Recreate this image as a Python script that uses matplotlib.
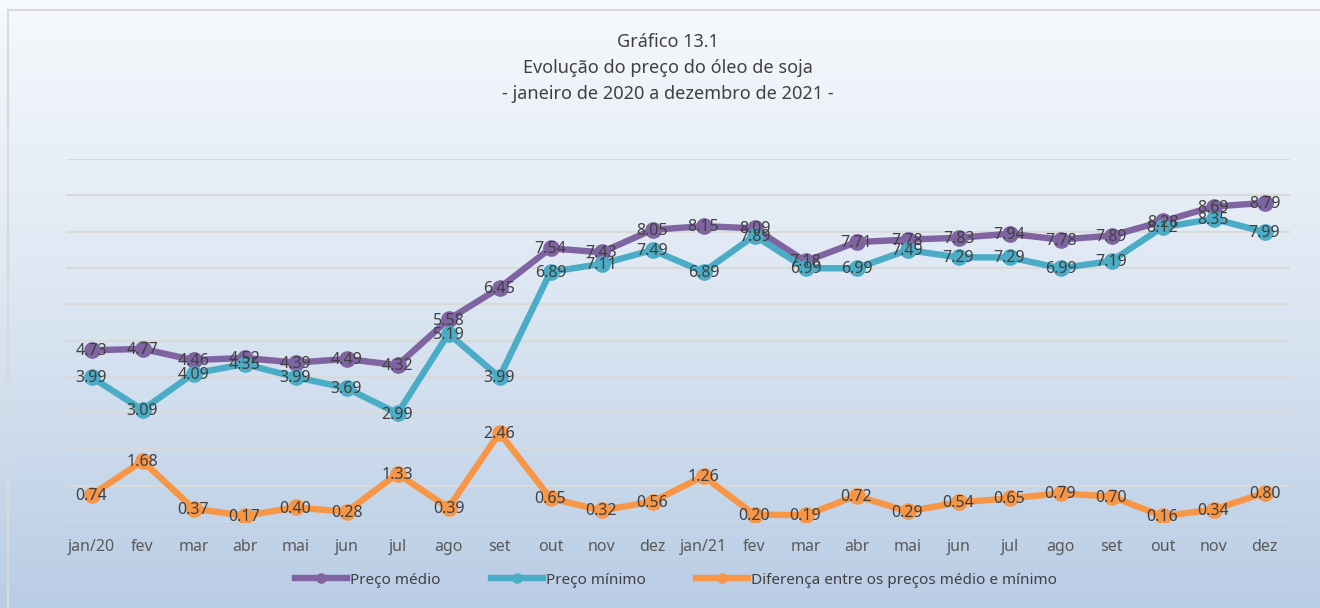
import numpy as np
import matplotlib
matplotlib.use("Agg")
from matplotlib import pyplot as plt
from matplotlib.colors import LinearSegmentedColormap
from matplotlib.patches import Rectangle

months = ["jan/20", "fev", "mar", "abr", "mai", "jun", "jul", "ago", "set", "out", "nov", "dez",
          "jan/21", "fev", "mar", "abr", "mai", "jun", "jul", "ago", "set", "out", "nov", "dez"]
preco_medio = [4.73, 4.77, 4.46, 4.52, 4.39, 4.49, 4.32, 5.58, 6.45, 7.54, 7.43, 8.05,
               8.15, 8.09, 7.18, 7.71, 7.78, 7.83, 7.94, 7.78, 7.89, 8.28, 8.69, 8.79]
preco_minimo = [3.99, 3.09, 4.09, 4.35, 3.99, 3.69, 2.99, 5.19, 3.99, 6.89, 7.11, 7.49,
                6.89, 7.89, 6.99, 6.99, 7.49, 7.29, 7.29, 6.99, 7.19, 8.12, 8.35, 7.99]
diferenca = [0.74, 1.68, 0.37, 0.17, 0.40, 0.28, 1.33, 0.39, 2.46, 0.65, 0.32, 0.56,
             1.26, 0.20, 0.19, 0.72, 0.29, 0.54, 0.65, 0.79, 0.70, 0.16, 0.34, 0.80]

plt.rcParams["font.family"] = ["Noto Sans", "DejaVu Sans"]
W, H = 1320, 608
fig = plt.figure(figsize=(W / 100, H / 100), dpi=100)

# gradient background + border
bg = fig.add_axes([0, 0, 1, 1], zorder=-10)
cmap = LinearSegmentedColormap.from_list("bg", ["#f6f9fd", "#dce6f2", "#b9cde5"])
grad = np.linspace(0, 1, 256).reshape(-1, 1)
bg.imshow(grad, aspect="auto", cmap=cmap, extent=[0, 1, 0, 1], origin="upper")
bg.add_patch(Rectangle((8 / W, -0.01), 1.0, 1 - 10 / H + 0.01, fill=False,
                       edgecolor="#d9d9d9", lw=1.5))
bg.set_xlim(0, 1)
bg.set_ylim(0, 1)
bg.axis("off")

ax = fig.add_axes([66 / W, 1 - 522 / H, 1224 / W, (522 - 159) / H])
ax.patch.set_alpha(0)
x = np.arange(len(months))

series = [
    (preco_medio, "#8064a2", "Preço médio"),
    (preco_minimo, "#4bacc6", "Preço mínimo"),
    (diferenca, "#f79646", "Diferença entre os preços médio e mínimo"),
]
for vals, color, label in series:
    ax.plot(x, vals, color=color, lw=4.6, marker="o", ms=11, label=label,
            solid_joinstyle="round", zorder=3)
    for xi, v in zip(x, vals):
        ax.text(xi, v - 0.03, f"{v:.2f}", ha="center", va="center", fontsize=11.5,
                color="#404040", zorder=4)

ax.set_xlim(-0.5, len(months) - 0.5)
ax.set_ylim(0, 10)
ax.set_yticks(np.arange(0, 11, 1))
ax.yaxis.grid(True, color="#d9d9d9", lw=1.5)
ax.set_axisbelow(True)
ax.tick_params(axis="y", left=False, labelleft=False)
ax.tick_params(axis="x", length=0, pad=12, labelsize=11.5, labelcolor="#595959")
ax.set_xticks(x)
ax.set_xticklabels(months)
for s in ax.spines.values():
    s.set_visible(False)

title_lines = ["Gráfico 13.1", "Evolução do preço do óleo de soja",
               "- janeiro de 2020 a dezembro de 2021 -"]
for i, line in enumerate(title_lines):
    fig.text(668 / W, 1 - (42 + 26 * i) / H, line, ha="center", va="center",
             fontsize=13, color="#404040")

fig.legend(loc="center", bbox_to_anchor=(676 / W, 1 - 580 / H), ncol=3, frameon=False,
           fontsize=11, labelcolor="#404040", handlelength=3.4, handletextpad=0.2,
           columnspacing=3.3, markerscale=0.6)

plt.savefig("out.png", dpi=100)
